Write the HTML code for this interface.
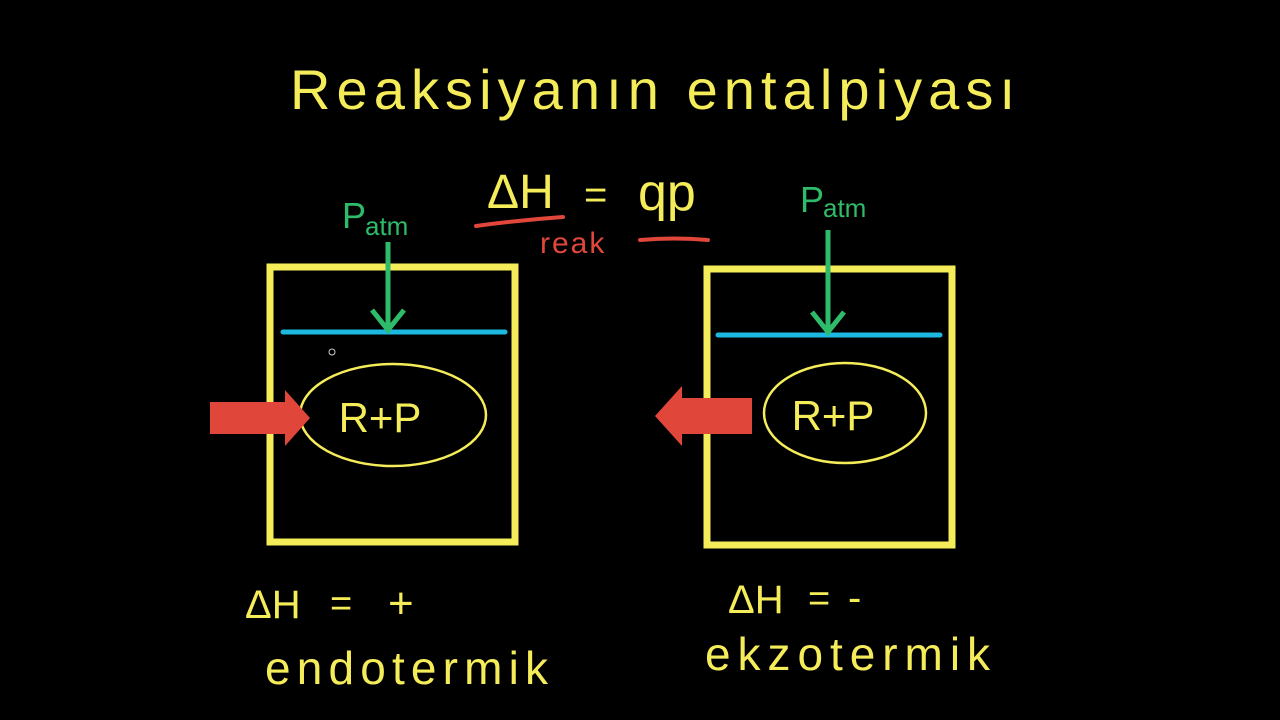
<!DOCTYPE html>
<html><head><meta charset="utf-8"><style>
html,body{margin:0;padding:0;background:#000;width:1280px;height:720px;overflow:hidden}
svg text{font-family:"Liberation Sans",sans-serif}
</style></head><body>
<svg width="1280" height="720" viewBox="0 0 1280 720">
<rect width="1280" height="720" fill="#000"/>
<text x="290" y="109" font-size="56" fill="#f5ec5a" textLength="725" lengthAdjust="spacing">Reaksiyanın entalpiyası</text>
<!-- ΔH = qp -->
<text x="487" y="208" font-size="48" fill="#f5ec5a">ΔH</text>
<text x="584" y="208" font-size="40" fill="#f5ec5a">=</text>
<text x="638" y="210" font-size="52" fill="#f5ec5a">qp</text>
<path d="M476 226 Q520 220 563 217" stroke="#e0473a" stroke-width="4" fill="none" stroke-linecap="round"/>
<path d="M640 240 Q675 237 708 240" stroke="#e0473a" stroke-width="4" fill="none" stroke-linecap="round"/>
<text x="540" y="253" font-size="30" fill="#e0473a" letter-spacing="2">reak</text>
<!-- Left box -->
<rect x="270" y="267" width="245" height="275" fill="none" stroke="#f5ec5a" stroke-width="7"/>
<line x1="283" y1="332" x2="505" y2="332" stroke="#1cb8e0" stroke-width="5" stroke-linecap="round"/>
<line x1="388" y1="242" x2="388" y2="328" stroke="#2ebc6a" stroke-width="5"/>
<path d="M372 310 L388 330 L404 310" stroke="#2ebc6a" stroke-width="5" fill="none"/>
<text x="342" y="228" font-size="36" fill="#2ebc6a">P</text>
<text x="365" y="235" font-size="26" fill="#2ebc6a">atm</text>
<circle cx="332" cy="352" r="3" fill="none" stroke="#ccc" stroke-width="1"/>
<ellipse cx="393" cy="415" rx="93" ry="51" fill="none" stroke="#f5ec5a" stroke-width="2.5"/>
<text x="380" y="432" text-anchor="middle" font-size="42" fill="#f5ec5a">R+P</text>
<path d="M210 402 L285 402 L285 390 L310 418 L285 446 L285 434 L210 434 Z" fill="#e0473a"/>
<!-- Right box -->
<rect x="707" y="269" width="245" height="276" fill="none" stroke="#f5ec5a" stroke-width="7"/>
<line x1="718" y1="335" x2="940" y2="335" stroke="#1cb8e0" stroke-width="5" stroke-linecap="round"/>
<line x1="828" y1="230" x2="828" y2="330" stroke="#2ebc6a" stroke-width="5"/>
<path d="M812 312 L828 332 L844 312" stroke="#2ebc6a" stroke-width="5" fill="none"/>
<text x="800" y="212" font-size="36" fill="#2ebc6a">P</text>
<text x="823" y="217" font-size="26" fill="#2ebc6a">atm</text>
<ellipse cx="845" cy="413" rx="81" ry="50" fill="none" stroke="#f5ec5a" stroke-width="2.5"/>
<text x="833" y="430" text-anchor="middle" font-size="42" fill="#f5ec5a">R+P</text>
<path d="M752 398 L682 398 L682 386 L655 416 L682 446 L682 434 L752 434 Z" fill="#e0473a"/>
<!-- bottom labels -->
<text x="245" y="618" font-size="40" fill="#f5ec5a">ΔH</text>
<text x="330" y="616" font-size="38" fill="#f5ec5a">=</text>
<text x="388" y="618" font-size="44" fill="#f5ec5a">+</text>
<text x="265" y="684" font-size="46" fill="#f5ec5a" textLength="283" lengthAdjust="spacing">endotermik</text>
<text x="728" y="613" font-size="40" fill="#f5ec5a">ΔH</text>
<text x="808" y="611" font-size="38" fill="#f5ec5a">=</text>
<text x="848" y="611" font-size="40" fill="#f5ec5a">-</text>
<text x="705" y="670" font-size="46" fill="#f5ec5a" textLength="285" lengthAdjust="spacing">ekzotermik</text>
</svg>
</body></html>
